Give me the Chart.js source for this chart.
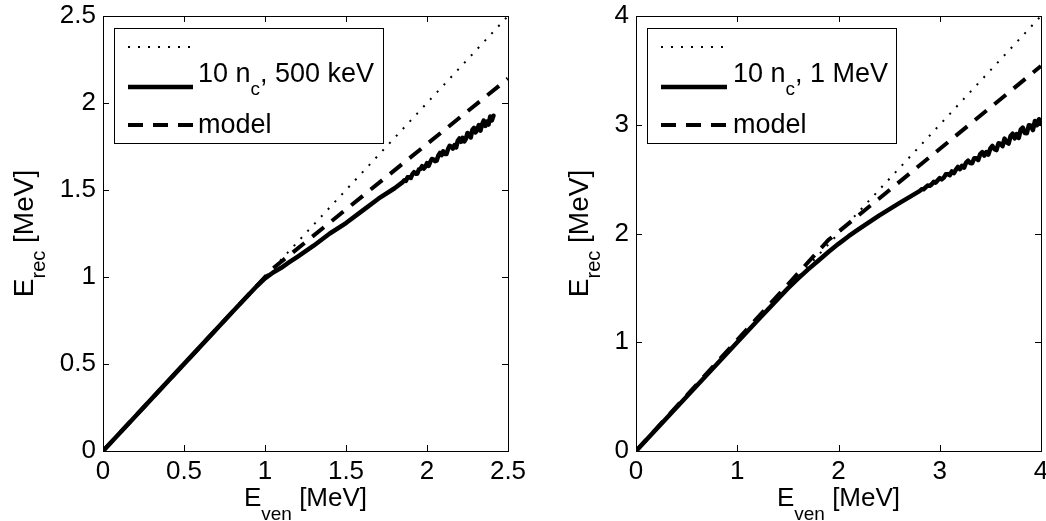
<!DOCTYPE html>
<html lang="en">
<head>
<meta charset="UTF-8">
<title>E_rec vs E_ven</title>
<script src="https://cdn.jsdelivr.net/npm/chart.js"></script>
<style>
    body { margin: 0; background: #fff; }
    canvas { position: absolute; left: 0; top: 0; }
</style>
</head>
<body>
<canvas id="left" width="1046" height="521"></canvas>
<canvas id="right" width="1046" height="521"></canvas>

<script>
// ---- left panel: 10 n_c, 500 keV ----
var ticks500 = [0, 0.5, 1, 1.5, 2, 2.5];
var refX500 = [0, 2.5];
var refY500 = [0, 2.5];
var modelX500 = [0, 1.05, 2.5];
var modelY500 = [0, 1.05, 2.14];
var simX500 = [0, 0.2, 0.4, 0.6, 0.8, 0.95, 1.0, 1.05, 1.1, 1.15, 1.2, 1.3, 1.4, 1.5, 1.6, 1.7, 1.8, 1.85,
    1.86, 1.87, 1.88, 1.89, 1.90, 1.91, 1.92, 1.93, 1.94, 1.95, 1.96, 1.97, 1.98, 1.99,
    2.00, 2.01, 2.02, 2.03, 2.04, 2.05, 2.06, 2.07, 2.08, 2.09, 2.10, 2.11, 2.12, 2.13, 2.14,
    2.15, 2.16, 2.17, 2.18, 2.19, 2.20, 2.21, 2.22, 2.23, 2.24, 2.25, 2.26, 2.27, 2.28,
    2.29, 2.30, 2.31, 2.32, 2.33, 2.34, 2.35, 2.36, 2.37, 2.38, 2.39, 2.40, 2.41];
var simY500 = [0, 0.2, 0.4, 0.6, 0.8, 0.948, 0.992, 1.026, 1.053, 1.085, 1.116, 1.18, 1.25, 1.31, 1.38, 1.45, 1.51, 1.545,
    1.556, 1.552, 1.573, 1.573, 1.569, 1.591, 1.602, 1.594, 1.594, 1.618, 1.621, 1.637, 1.623, 1.635,
    1.654, 1.639, 1.661, 1.678, 1.676, 1.666, 1.669, 1.699, 1.713, 1.700, 1.722, 1.707, 1.707, 1.735, 1.754,
    1.750, 1.738, 1.758, 1.745, 1.783, 1.796, 1.777, 1.800, 1.779, 1.794, 1.828, 1.820, 1.802, 1.845,
    1.857, 1.831, 1.846, 1.873, 1.841, 1.877, 1.899, 1.868, 1.894, 1.876, 1.922, 1.900, 1.927];

// ---- right panel: 10 n_c, 1 MeV ----
var ticks1 = [0, 1, 2, 3, 4];
var refX1 = [0, 4];
var refY1 = [0, 4];
var modelX1 = [0, 1.9, 4];
var modelY1 = [0, 1.94, 3.54];
var simX1 = [0, 0.4, 0.8, 1.2, 1.5, 1.6, 1.7, 1.8, 1.9, 2.0, 2.1, 2.2, 2.4, 2.6,
    2.80, 2.82, 2.84, 2.86, 2.88, 2.90, 2.92, 2.94, 2.96, 2.98, 3.00, 3.02, 3.04, 3.06, 3.08,
    3.10, 3.12, 3.14, 3.16, 3.18, 3.20, 3.22, 3.24, 3.26, 3.28, 3.30, 3.32, 3.34, 3.36, 3.38,
    3.40, 3.42, 3.44, 3.46, 3.48, 3.50, 3.52, 3.54, 3.56, 3.58, 3.60, 3.62, 3.64, 3.66, 3.68,
    3.70, 3.72, 3.74, 3.76, 3.78, 3.80, 3.82, 3.84, 3.86, 3.88, 3.90, 3.92, 3.94, 3.96, 3.98, 4.00];
var simY1 = [0, 0.4, 0.8, 1.2, 1.495, 1.585, 1.67, 1.75, 1.83, 1.905, 1.975, 2.04, 2.165, 2.28,
    2.390, 2.406, 2.407, 2.424, 2.441, 2.438, 2.452, 2.475, 2.468, 2.490, 2.510, 2.498, 2.514, 2.544, 2.546,
    2.537, 2.571, 2.555, 2.587, 2.612, 2.592, 2.623, 2.605, 2.652, 2.669, 2.649, 2.646, 2.691, 2.693, 2.676,
    2.731, 2.749, 2.717, 2.749, 2.726, 2.783, 2.805, 2.776, 2.767, 2.829, 2.826, 2.803, 2.872, 2.838, 2.827,
    2.897, 2.918, 2.875, 2.914, 2.878, 2.955, 2.974, 2.924, 2.922, 2.996, 2.991, 2.951, 3.035, 2.996, 3.051, 3.007];

var FONT = '"Liberation Sans", Arial, Helvetica, sans-serif';
var DOT = [2, 8];
var DASH = [15, 10];

function pts(xs, ys) {
    return xs.map(function (x, i) { return { x: x, y: ys[i] }; });
}

// text with subscripts: parts = [normal, sub, normal, ...]
function partsWidth(ctx, parts, big, small) {
    var w = 0;
    parts.forEach(function (p, i) {
        ctx.font = (i % 2 ? small : big) + 'px ' + FONT;
        w += ctx.measureText(p).width;
    });
    return w;
}
function drawParts(ctx, parts, x, y, big, small, drop) {
    parts.forEach(function (p, i) {
        ctx.font = (i % 2 ? small : big) + 'px ' + FONT;
        ctx.fillText(p, x, i % 2 ? y + drop : y);
        x += ctx.measureText(p).width;
    });
}

var frame = {
    id: 'frame',
    afterDatasetsDraw: function (chart, args, o) {
        var ctx = chart.ctx, a = chart.chartArea;
        var xs = chart.scales.x, ys = chart.scales.y;
        ctx.save();
        ctx.strokeStyle = '#000';
        ctx.fillStyle = '#000';
        ctx.lineWidth = 1;
        ctx.setLineDash([]);
        ctx.strokeRect(a.left + 0.5, a.top + 0.5, a.right - a.left, a.bottom - a.top);

        // inward ticks on all four sides
        ctx.beginPath();
        xs.ticks.forEach(function (t) {
            var p = Math.round(xs.getPixelForValue(t.value)) + 0.5;
            ctx.moveTo(p, a.bottom); ctx.lineTo(p, a.bottom - 6);
            ctx.moveTo(p, a.top); ctx.lineTo(p, a.top + 6);
        });
        ys.ticks.forEach(function (t) {
            var p = Math.round(ys.getPixelForValue(t.value)) + 0.5;
            ctx.moveTo(a.left, p); ctx.lineTo(a.left + 6, p);
            ctx.moveTo(a.right, p); ctx.lineTo(a.right - 6, p);
        });
        ctx.stroke();

        // legend box
        var bx = a.left + 11, by = a.top + 12;
        ctx.fillStyle = '#fff';
        ctx.fillRect(bx, by, o.boxW, 115);
        ctx.strokeRect(bx + 0.5, by + 0.5, o.boxW, 115);
        ctx.fillStyle = '#000';
        var sx0 = a.left + 25, sx1 = a.left + o.sampleEnd;
        var rows = [
            { y: a.top + 31, w: 2, dash: DOT },
            { y: a.top + 71, w: 4.5, dash: [] },
            { y: a.top + 109, w: 4, dash: DASH }
        ];
        rows.forEach(function (r) {
            ctx.beginPath();
            ctx.lineWidth = r.w;
            ctx.setLineDash(r.dash);
            ctx.moveTo(sx0, r.y);
            ctx.lineTo(sx1, r.y);
            ctx.stroke();
        });
        ctx.setLineDash([]);
        ctx.textAlign = 'left';
        ctx.textBaseline = 'alphabetic';
        drawParts(ctx, o.label, a.left + o.textX, a.top + 66, 27, 19, 13);
        ctx.font = '27px ' + FONT;
        ctx.fillText('model', a.left + o.textX, a.top + 117);

        // x title
        var xt = ['E', 'ven', ' [MeV]'];
        var w = partsWidth(ctx, xt, 26, 19);
        drawParts(ctx, xt, (a.left + a.right) / 2 - w / 2, 506, 26, 19, 14);

        // y title (rotated)
        var yt = ['E', 'rec', ' [MeV]'];
        ctx.translate(a.left + o.yTitle, (a.top + a.bottom) / 2);
        ctx.rotate(-Math.PI / 2);
        w = partsWidth(ctx, yt, 28, 20);
        drawParts(ctx, yt, -w / 2, 0, 28, 20, 12);
        ctx.restore();
    }
};

function tickText(v) { return String(v); }

function makeChart(id, opt) {
    return new Chart(document.getElementById(id), {
        type: 'scatter',
        data: {
            datasets: [
                { data: pts(opt.refX, opt.refY), borderColor: '#000', borderWidth: 2, borderDash: DOT },
                { data: pts(opt.simX, opt.simY), borderColor: '#000', borderWidth: 4.5, borderJoinStyle: 'round', borderCapStyle: 'round' },
                { data: pts(opt.modelX, opt.modelY), borderColor: '#000', borderWidth: 4, borderDash: DASH }
            ]
        },
        options: {
            responsive: false,
            animation: false,
            showLine: true,
            elements: { point: { radius: 0, hoverRadius: 0 }, line: { tension: 0 } },
            layout: { padding: opt.pad },
            plugins: {
                legend: { display: false },
                tooltip: { enabled: false },
                frame: opt.frame
            },
            scales: {
                x: {
                    type: 'linear', min: 0, max: opt.ticks[opt.ticks.length - 1],
                    afterBuildTicks: function (s) { s.ticks = opt.ticks.map(function (v) { return { value: v }; }); },
                    afterFit: function (s) { s.height = 70; s.paddingLeft = 0; s.paddingRight = 0; },
                    grid: { display: false, drawTicks: false },
                    border: { display: false },
                    ticks: { color: '#000', font: { family: FONT, size: 26 }, padding: 5, maxRotation: 0, autoSkip: false, callback: tickText }
                },
                y: {
                    type: 'linear', min: 0, max: opt.ticks[opt.ticks.length - 1],
                    afterBuildTicks: function (s) { s.ticks = opt.ticks.map(function (v) { return { value: v }; }); },
                    afterFit: function (s) { s.width = opt.yWidth; s.paddingTop = 0; s.paddingBottom = 0; },
                    grid: { display: false, drawTicks: false },
                    border: { display: false },
                    ticks: { color: '#000', font: { family: FONT, size: 26 }, padding: 7, autoSkip: false, callback: tickText }
                }
            }
        },
        plugins: [frame]
    });
}

makeChart('left', {
    ticks: ticks500, refX: refX500, refY: refY500, simX: simX500, simY: simY500,
    modelX: modelX500, modelY: modelY500,
    pad: { left: 0, right: 538, top: 16, bottom: 0 },
    yWidth: 103,
    frame: { boxW: 269, sampleEnd: 90, textX: 95, label: ['10 n', 'c', ', 500 keV'], yTitle: -70 }
});

makeChart('right', {
    ticks: ticks1, refX: refX1, refY: refY1, simX: simX1, simY: simY1,
    modelX: modelX1, modelY: modelY1,
    pad: { left: 523, right: 5, top: 16, bottom: 0 },
    yWidth: 113,
    frame: { boxW: 249, sampleEnd: 91, textX: 97, label: ['10 n', 'c', ', 1 MeV'], yTitle: -48 }
});
</script>
</body>
</html>
